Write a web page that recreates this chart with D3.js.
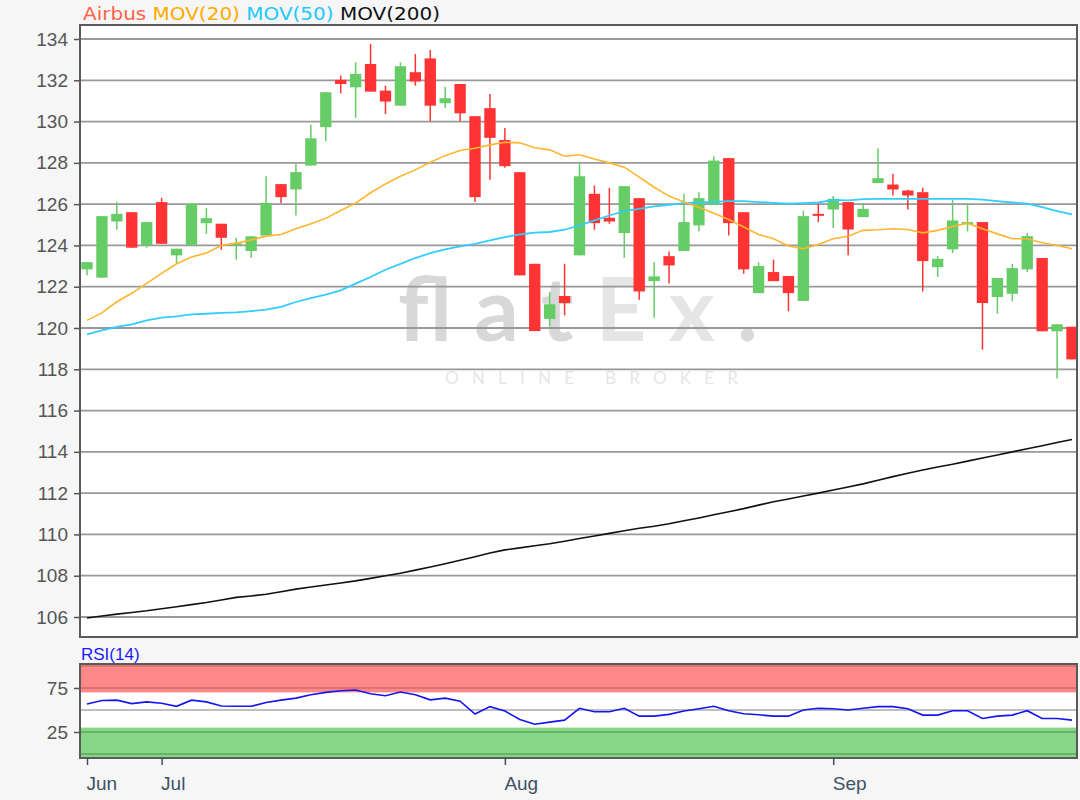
<!DOCTYPE html>
<html>
<head>
<meta charset="utf-8">
<script src="https://cdn.jsdelivr.net/npm/d3@7"></script>
<style>
  body { margin: 0; background: #f6f6f6; }
  svg { display: block; }
</style>
</head>
<body>
<script>
// ----- DATA (24 Jun - 24 Sep) -----
const open  = [122.84,122.44,125.16,125.61,124.00,126.10,123.52,124.03,125.08,125.05,124.03,123.73,124.48,126.97,126.71,127.87,129.73,
               132.02,131.66,132.79,131.50,130.77,132.39,133.06,130.89,131.82,130.26,130.65,129.11,127.55,123.11,120.44,121.55,123.52,
               126.50,125.34,124.60,126.29,122.27,123.48,123.73,124.97,125.97,128.23,125.61,121.69,122.71,122.52,121.31,125.53,
               125.74,126.10,125.37,127.02,126.95,126.66,126.58,122.95,123.81,125.05,125.13,121.50,121.66,122.84,123.39,119.84,120.06];
const high  = [123.20,125.42,126.10,125.61,125.13,126.31,123.84,126.02,125.81,125.05,124.37,124.44,127.35,126.97,127.95,129.85,131.42,
               132.23,132.87,133.76,131.74,132.87,133.27,133.47,131.69,131.82,130.26,131.34,129.69,127.55,123.11,121.74,123.11,127.98,
               126.90,126.79,126.87,126.29,123.19,123.71,126.50,126.58,128.32,128.23,125.61,123.19,123.31,122.52,125.69,126.02,
               126.39,126.10,126.06,128.71,127.47,126.70,126.79,123.48,126.21,126.05,125.13,122.42,123.11,124.60,123.39,120.18,120.06];
const low   = [122.55,122.44,124.76,123.89,123.89,124.08,123.11,124.03,124.56,123.79,123.31,123.40,124.48,126.05,125.45,127.87,129.05,
               131.37,130.18,131.45,130.37,130.77,131.74,130.02,130.66,130.02,126.10,127.18,127.76,122.55,119.85,120.08,120.61,123.52,
               124.76,125.05,123.40,121.37,120.50,122.15,123.73,124.68,125.97,124.48,122.63,121.69,122.27,120.81,121.31,125.13,
               124.85,123.52,125.37,127.02,126.42,125.74,121.77,122.47,123.63,124.68,118.95,120.69,121.29,122.71,119.84,117.55,118.48];
const close = [123.19,125.42,125.53,123.89,125.13,124.08,123.84,126.02,125.32,124.37,124.10,124.44,126.06,126.34,127.55,129.19,131.42,
               131.82,132.31,131.45,130.97,132.68,131.94,130.77,131.13,130.40,126.34,129.21,127.84,122.55,119.85,121.15,121.21,127.35,
               125.08,125.16,126.87,121.77,122.50,123.03,125.13,126.29,128.11,125.08,122.84,123.00,122.27,121.69,125.42,125.48,
               126.26,124.77,125.77,127.26,126.71,126.42,123.24,123.35,125.21,125.13,121.21,122.42,122.90,124.45,119.84,120.18,118.48];

const mov20  = [120.37,120.73,121.27,121.68,122.16,122.65,123.11,123.44,123.63,124.00,124.11,124.27,124.45,124.53,124.81,125.05,125.31,
                125.69,126.05,126.55,126.98,127.35,127.66,128.03,128.35,128.60,128.71,128.87,129.00,128.97,128.73,128.63,128.32,128.39,
                128.19,128.00,127.79,127.31,126.82,126.39,126.10,125.85,125.56,125.26,124.89,124.53,124.32,123.97,123.84,124.05,
                124.32,124.44,124.73,124.76,124.81,124.77,124.61,124.73,124.92,125.08,124.81,124.56,124.32,124.32,124.13,124.00,123.84];
const mov50  = [119.69,119.89,120.05,120.18,120.37,120.50,120.56,120.66,120.69,120.73,120.76,120.82,120.89,121.02,121.26,121.45,121.62,
                121.82,122.15,122.47,122.82,123.11,123.39,123.63,123.81,123.95,124.08,124.24,124.40,124.53,124.62,124.65,124.76,124.97,
                125.21,125.45,125.66,125.77,125.89,125.97,126.05,126.08,126.11,126.15,126.15,126.10,126.06,126.02,126.05,126.08,
                126.21,126.18,126.24,126.26,126.26,126.26,126.26,126.26,126.26,126.26,126.22,126.15,126.08,126.02,125.85,125.66,125.50];
const mov200 = [105.95,106.05,106.14,106.22,106.30,106.40,106.50,106.60,106.70,106.82,106.95,107.02,107.10,107.22,107.35,107.45,107.55,
                107.65,107.75,107.87,108.00,108.12,108.27,108.42,108.58,108.75,108.92,109.10,109.25,109.35,109.45,109.55,109.67,109.80,
                109.92,110.05,110.18,110.30,110.40,110.52,110.66,110.80,110.95,111.10,111.25,111.42,111.58,111.72,111.86,112.00,
                112.15,112.30,112.45,112.62,112.80,112.96,113.12,113.27,113.40,113.55,113.70,113.85,114.00,114.15,114.30,114.45,114.60];
const rsi = [56.9,60.8,61.2,57.3,59.2,57.7,54.2,61.2,59.2,54.6,54.2,54.2,58.5,61.2,63.5,67.3,70.0,
             71.9,72.7,68.5,66.2,70.4,67.3,61.5,63.5,60.0,45.4,53.8,48.8,39.2,33.8,36.2,38.5,51.9,
             48.0,48.0,51.9,43.0,43.0,45.0,48.8,51.5,54.2,49.2,45.8,44.6,43.0,43.0,50.0,51.9,
             51.5,50.0,51.9,53.8,53.8,51.5,44.2,44.2,49.2,49.2,40.4,43.0,44.2,49.2,40.4,40.4,38.5];

const monthLabels = ["Jun", "Jul", "Aug", "Sep"];
const monthStart  = [0, 5, 28, 50];           // index of first trading day shown in each month
const priceTicks  = d3.range(106, 135, 2);
const rsiTicks    = [75, 25];

const n = close.length;
const candles = d3.range(n).map(i => ({ i: i, o: open[i], h: high[i], l: low[i], c: close[i] }));

// ----- LAYOUT -----
const W = 1080, H = 800;
const main = { left: 80, right: 1077, top: 25, bottom: 637 };
const low_ = { top: 664, bottom: 758 };
const font = "'Liberation Sans', Arial, sans-serif";

const svg = d3.select("body").append("svg").attr("width", W).attr("height", H);

// ----- SCALES -----
const x = d3.scalePoint().domain(d3.range(n)).range([87, 1072]);
const y = d3.scaleLinear().domain([106, 134]).range([617, 39]);
const yr = d3.scaleLinear().domain([0, 100]).range([754, 666]);

const red = "#ff3333", green = "#66cc66";

// ----- MAIN PANEL -----
svg.append("rect").attr("x", main.left).attr("y", main.top)
  .attr("width", main.right - main.left).attr("height", main.bottom - main.top)
  .attr("fill", "#fff");

// watermark
const wm = svg.append("g").attr("font-family", "Lato, 'Open Sans', sans-serif");
wm.append("text").attr("x", 398).attr("y", 341).attr("font-size", 88).attr("font-weight", 700)
  .attr("textLength", 360).attr("lengthAdjust", "spacing")
  .selectAll("tspan").data([["flat", "#d8d8d8"], ["Ex", "#e5e5e5"], [".", "#d8d8d8"]]).join("tspan")
  .attr("fill", d => d[1]).text(d => d[0]);
wm.append("text").attr("x", 445).attr("y", 384).attr("font-size", 17)
  .attr("fill", "#e6e6e6").attr("textLength", 293).attr("lengthAdjust", "spacing")
  .text("ONLINE BROKER");

// y axis + grid
const yAxis = svg.append("g").attr("transform", `translate(${main.left},0)`)
  .call(d3.axisLeft(y).tickValues(priceTicks).tickSize(6).tickPadding(6));
yAxis.select(".domain").remove();
yAxis.selectAll(".tick line").attr("stroke", "#555").attr("stroke-width", 1.5);
yAxis.selectAll(".tick text").attr("fill", "#555").attr("font-size", 19).attr("font-family", font);

svg.append("g").selectAll("line").data(priceTicks).join("line")
  .attr("x1", main.left).attr("x2", main.right)
  .attr("y1", d => y(d)).attr("y2", d => y(d))
  .attr("stroke", "#999").attr("stroke-width", 1.8);

// candles
const cg = svg.append("g");
cg.selectAll("line").data(candles).join("line")
  .attr("x1", d => x(d.i)).attr("x2", d => x(d.i))
  .attr("y1", d => y(d.h)).attr("y2", d => y(d.l))
  .attr("stroke", d => d.c >= d.o ? green : red).attr("stroke-width", 1.5);
const bw = x.step() * 0.76;
cg.selectAll("rect").data(candles).join("rect")
  .attr("x", d => x(d.i) - bw / 2).attr("width", bw)
  .attr("y", d => y(Math.max(d.o, d.c)))
  .attr("height", d => Math.max(2, Math.abs(y(d.o) - y(d.c))))
  .attr("fill", d => d.c >= d.o ? green : red);

// moving averages
const line = d3.line().x((d, i) => x(i)).y(d => y(d));
[[mov200, "#111", 1.6], [mov50, "#33ccff", 1.8], [mov20, "#ffb52e", 1.6]].forEach(s => {
  svg.append("path").datum(s[0]).attr("d", line)
    .attr("fill", "none").attr("stroke", s[1]).attr("stroke-width", s[2]);
});

svg.append("rect").attr("x", main.left).attr("y", main.top)
  .attr("width", main.right - main.left).attr("height", main.bottom - main.top)
  .attr("fill", "none").attr("stroke", "#5a5a5a").attr("stroke-width", 2);

// legend
svg.append("text").attr("x", 83).attr("y", 20).attr("font-size", 18)
  .attr("font-family", "'DejaVu Sans', Verdana, sans-serif")
  .attr("textLength", 357).attr("lengthAdjust", "spacingAndGlyphs")
  .selectAll("tspan")
  .data([["Airbus", "#ff6347"], [" MOV(20)", "#ffaa00"], [" MOV(50)", "#1ec8ff"], [" MOV(200)", "#111"]])
  .join("tspan").attr("fill", d => d[1]).text(d => d[0]);

// ----- RSI PANEL -----
svg.append("rect").attr("x", main.left).attr("y", low_.top)
  .attr("width", main.right - main.left).attr("height", low_.bottom - low_.top).attr("fill", "#fff");
svg.append("rect").attr("x", main.left).attr("y", low_.top)
  .attr("width", main.right - main.left).attr("height", yr(70) - low_.top).attr("fill", "#ff8888");
svg.append("rect").attr("x", main.left).attr("y", yr(30))
  .attr("width", main.right - main.left).attr("height", low_.bottom - yr(30)).attr("fill", "#88d688");

[[100, "#d66a6a"], [75, "#d66a6a"], [50, "#aaaaaa"], [25, "#5ea65e"], [0, "#5ea65e"]].forEach(l => {
  svg.append("line").attr("x1", main.left).attr("x2", main.right)
    .attr("y1", yr(l[0])).attr("y2", yr(l[0]))
    .attr("stroke", l[1]).attr("stroke-width", 1.6);
});

svg.append("path").datum(rsi)
  .attr("d", d3.line().x((d, i) => x(i)).y(d => yr(d)))
  .attr("fill", "none").attr("stroke", "#1515f0").attr("stroke-width", 1.6);

svg.append("rect").attr("x", main.left).attr("y", low_.top)
  .attr("width", main.right - main.left).attr("height", low_.bottom - low_.top)
  .attr("fill", "none").attr("stroke", "#5a5a5a").attr("stroke-width", 2);

const rAxis = svg.append("g").attr("transform", `translate(${main.left},0)`)
  .call(d3.axisLeft(yr).tickValues(rsiTicks).tickSize(6).tickPadding(6));
rAxis.select(".domain").remove();
rAxis.selectAll(".tick line").attr("stroke", "#555").attr("stroke-width", 1.5);
rAxis.selectAll(".tick text").attr("fill", "#555").attr("font-size", 19).attr("font-family", font);

svg.append("text").attr("x", 81).attr("y", 660).attr("font-size", 17).attr("font-family", font)
  .attr("fill", "#1a1aff").text("RSI(14)");

// x axis (month starts)
const xAxis = svg.append("g").attr("transform", `translate(0,${low_.bottom})`)
  .call(d3.axisBottom(x).tickValues(monthStart).tickSize(7).tickPadding(12)
    .tickFormat((d, i) => monthLabels[i]));
xAxis.select(".domain").remove();
xAxis.selectAll(".tick line").attr("stroke", "#3d5266").attr("stroke-width", 1.5);
xAxis.selectAll(".tick text").attr("fill", "#3d5266").attr("font-size", 19)
  .attr("text-anchor", "start").attr("dx", -1).attr("font-family", font);
</script>
</body>
</html>
